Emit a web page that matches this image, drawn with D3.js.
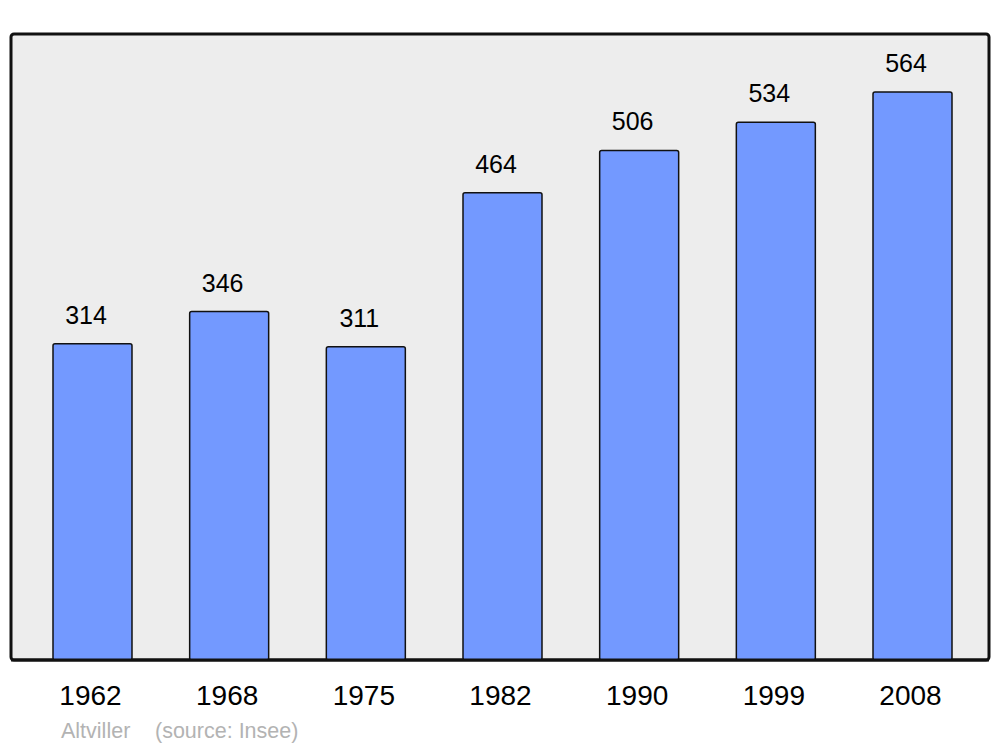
<!DOCTYPE html>
<html><head><meta charset="utf-8">
<script src="https://cdn.jsdelivr.net/npm/d3@7"></script>
<style>html,body{margin:0;padding:0;background:#fff}svg{display:block}</style>
</head><body>
<script>
const years = ["1962","1968","1975","1982","1990","1999","2008"];
const population = [314,346,311,464,506,534,564];
const footerLabels = ["Altviller", "(source: Insee)"];

const W = 1000, H = 747;
const svg = d3.select("body").append("svg").attr("width", W).attr("height", H);

const panel = {x0: 11, x1: 989, y0: 34, y1: 660};
const x = d3.scaleBand().domain(years).range([53, 952]).paddingInner(0.422).paddingOuter(0);
const y = d3.scaleLinear().domain([0, 621.6]).range([panel.y1, panel.y0]);

svg.append("rect")
  .attr("x", panel.x0).attr("y", panel.y0)
  .attr("width", panel.x1 - panel.x0).attr("height", panel.y1 - panel.y0)
  .attr("rx", 3).attr("fill", "#ededed").attr("stroke", "#111").attr("stroke-width", 3);

const data = years.map((yr, i) => ({year: yr, value: population[i]}));

svg.append("g").selectAll("rect").data(data).join("rect")
  .attr("x", d => x(d.year)).attr("y", d => y(d.value))
  .attr("width", x.bandwidth()).attr("height", d => y(0) - y(d.value))
  .attr("rx", 2).attr("fill", "#7399ff").attr("stroke", "#111").attr("stroke-width", 1.5);

svg.append("line").attr("x1", panel.x0).attr("x2", panel.x1)
  .attr("y1", panel.y1).attr("y2", panel.y1).attr("stroke", "#111").attr("stroke-width", 3);

svg.append("g").selectAll("text").data(data).join("text")
  .attr("x", d => x(d.year) + x.bandwidth()/2 - 6.5)
  .attr("y", d => y(d.value) - 20)
  .attr("text-anchor", "middle")
  .attr("font-family", "'Liberation Sans', Arial, sans-serif")
  .attr("font-size", 25).attr("fill", "#000")
  .text(d => d.value);

const xAxis = svg.append("g").attr("transform", `translate(0,${panel.y1})`)
  .call(d3.axisBottom(x).tickSize(0).tickPadding(0));
xAxis.select(".domain").remove();
xAxis.selectAll("text")
  .attr("y", 45).attr("dy", 0).attr("dx", -2)
  .attr("font-family", "'Liberation Sans', Arial, sans-serif")
  .attr("font-size", 28).attr("fill", "#000");

svg.append("text").attr("x", 61).attr("y", 737.5)
  .attr("font-family", "'Liberation Sans', Arial, sans-serif")
  .attr("font-size", 21.5).attr("fill", "#b3b3b3")
  .text(footerLabels[0]);
svg.append("text").attr("x", 155).attr("y", 737.5)
  .attr("font-family", "'Liberation Sans', Arial, sans-serif")
  .attr("font-size", 21.5).attr("fill", "#b3b3b3")
  .text(footerLabels[1]);
</script>
</body></html>
